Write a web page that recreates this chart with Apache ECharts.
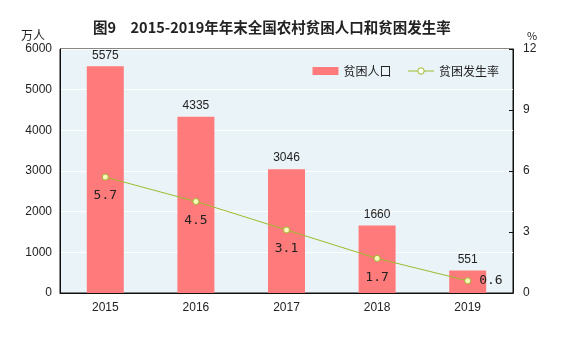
<!DOCTYPE html>
<html><head><meta charset="utf-8">
<script src="https://cdn.jsdelivr.net/npm/echarts@6/dist/echarts.min.js"></script>
<style>html,body{margin:0;padding:0;background:#fff}#c{width:566px;height:357px}</style>
</head><body><div id="c"></div>
<script>
var categories = ['2015','2016','2017','2018','2019'];
var poorPopulation = [5575, 4335, 3046, 1660, 551];
var povertyRate = [5.7, 4.5, 3.1, 1.7, 0.6];
var leftTicks = [0, 6000, 1000];
var rightTicks = [0, 12, 3];

var chart = echarts.init(document.getElementById('c'));
var font = '"Noto Sans CJK SC", "Liberation Sans", sans-serif';
var numFont = '"Liberation Sans", sans-serif';
chart.setOption({
  animation: false,
  backgroundColor: '#fff',
  title: {
    text: '图9　2015-2019年年末全国农村贫困人口和贫困发生率',
    left: 88, top: 15,
    textStyle: {fontSize: 14.5, fontWeight: 'bold', color: '#222', fontFamily: font}
  },
  legend: {
    right: 62, top: 60, itemGap: 16, itemWidth: 26, itemHeight: 8,
    textStyle: {fontSize: 12, color: '#222', fontFamily: font},
    data: [{name: '贫困人口', icon: 'rect'},
           {name: '贫困发生率', lineStyle: {width: 1}, itemStyle: {color: '#FFFFFF', borderColor: '#9DBB2D', borderWidth: 1}}]
  },
  grid: {
    left: 60, right: 53, top: 49, bottom: 64,
    show: true, backgroundColor: '#EAF3F8', borderColor: '#111', borderWidth: 1
  },
  xAxis: {
    type: 'category', data: categories,
    axisLine: {lineStyle: {color: '#111'}},
    axisTick: {inside: true, length: 5, lineStyle: {color: '#111'}},
    axisLabel: {fontSize: 12, color: '#222', margin: 9, fontFamily: numFont}
  },
  yAxis: [{
    type: 'value', min: leftTicks[0], max: leftTicks[1], interval: leftTicks[2],
    name: '万人', nameLocation: 'end', nameGap: 8,
    nameTextStyle: {fontSize: 12, color: '#222', align: 'right', padding: [0, 15, 0, 0], fontFamily: font},
    axisLine: {show: true, lineStyle: {color: '#111'}},
    axisTick: {show: false},
    splitLine: {lineStyle: {color: '#fff', width: 1}},
    axisLabel: {fontSize: 12, color: '#222', margin: 8, fontFamily: numFont,
      formatter: function(v){ return String(v); }}
  }, {
    type: 'value', min: rightTicks[0], max: rightTicks[1], interval: rightTicks[2],
    name: '%', nameLocation: 'end', nameGap: 8,
    nameTextStyle: {fontSize: 11, color: '#222', align: 'left', padding: [0, 0, 0, 14], fontFamily: font},
    axisLine: {show: true, lineStyle: {color: '#111'}},
    axisTick: {show: true, inside: true, length: 4, lineStyle: {color: '#111'}},
    splitLine: {show: false},
    axisLabel: {fontSize: 12, color: '#222', margin: 10, fontFamily: numFont}
  }],
  series: [{
    name: '贫困人口', type: 'bar', data: poorPopulation, barWidth: 37,
    itemStyle: {color: '#FF7B7B'},
    label: {show: true, position: 'top', distance: 5, fontSize: 12, color: '#222', fontFamily: numFont}
  }, {
    name: '贫困发生率', type: 'line', yAxisIndex: 1,
    lineStyle: {color: '#9DBB2D', width: 1},
    itemStyle: {color: '#FFFFC0', borderColor: '#9DBB2D', borderWidth: 1},
    symbol: 'circle', symbolSize: 6,
    label: {show: true, position: 'bottom', distance: 9, fontSize: 13, color: '#222',
      fontFamily: '"DejaVu Sans Mono", monospace',
      formatter: function(p){ return p.value.toFixed(1); }},
    data: povertyRate.map(function(v, i){
      return i === povertyRate.length - 1 ? {value: v, label: {position: 'right', distance: 8}} : v;
    })
  }]
});
</script></body></html>
